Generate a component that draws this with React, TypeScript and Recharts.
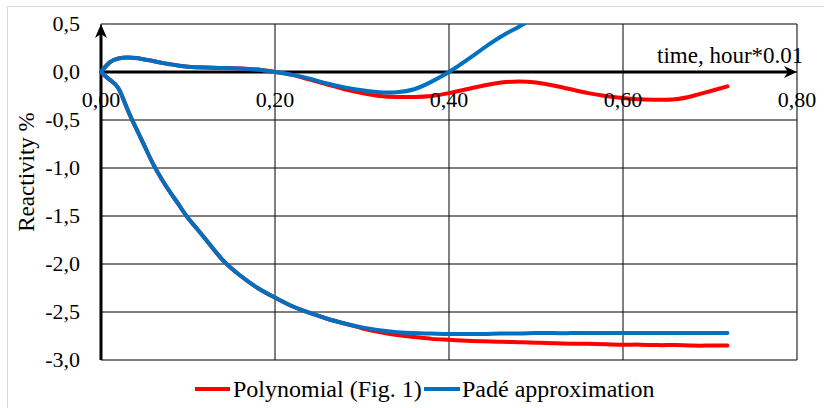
import { LineChart, Line, XAxis, YAxis, CartesianGrid, ReferenceLine } from "recharts";

// time grid, hour*0.01 (finer steps where the curves bend sharply)
const TIME = [
  0, 0.01, 0.02, 0.03, 0.04, 0.05, 0.06, 0.07, 0.08, 0.09, 0.1,
  0.12, 0.14, 0.16, 0.18, 0.2, 0.22, 0.24, 0.26, 0.28, 0.3,
  0.32, 0.34, 0.36, 0.38, 0.4, 0.42, 0.44, 0.46, 0.48, 0.5,
  0.52, 0.54, 0.56, 0.58, 0.6, 0.62, 0.64, 0.66, 0.68, 0.7, 0.72,
];

// reactivity, %
const POLY_UPPER = [
  0, 0.1, 0.14, 0.15, 0.145, 0.13, 0.115, 0.095, 0.08, 0.065, 0.055,
  0.047, 0.042, 0.037, 0.025, 0, -0.03, -0.08, -0.13, -0.18, -0.22,
  -0.25, -0.26, -0.26, -0.25, -0.22, -0.18, -0.14, -0.11, -0.1, -0.11,
  -0.14, -0.18, -0.22, -0.25, -0.27, -0.285, -0.29, -0.285, -0.25, -0.2, -0.15,
];
const POLY_LOWER = [
  0, -0.08, -0.17, -0.38, -0.58, -0.77, -0.96, -1.12, -1.26, -1.39, -1.52,
  -1.74, -1.96, -2.12, -2.25, -2.35, -2.44, -2.51, -2.57, -2.62, -2.67,
  -2.71, -2.74, -2.76, -2.78, -2.79, -2.8, -2.805, -2.81, -2.815, -2.82,
  -2.825, -2.83, -2.83, -2.835, -2.84, -2.84, -2.845, -2.845, -2.85, -2.85, -2.85,
];
const PADE_UPPER = [
  0, 0.1, 0.14, 0.15, 0.145, 0.13, 0.115, 0.095, 0.08, 0.065, 0.055,
  0.047, 0.042, 0.037, 0.025, 0, -0.03, -0.07, -0.12, -0.16, -0.19,
  -0.21, -0.21, -0.18, -0.1, 0, 0.12, 0.25, 0.37, 0.47, 0.58,
  0.7,
];
const PADE_LOWER = [
  0, -0.08, -0.17, -0.38, -0.58, -0.77, -0.96, -1.12, -1.26, -1.39, -1.52,
  -1.74, -1.96, -2.12, -2.25, -2.35, -2.44, -2.51, -2.57, -2.62, -2.66,
  -2.69, -2.71, -2.72, -2.725, -2.73, -2.73, -2.73, -2.725, -2.725, -2.72,
  -2.72, -2.72, -2.72, -2.72, -2.72, -2.72, -2.72, -2.72, -2.72, -2.72, -2.72,
];

const X_TICKS = [0, 0.2, 0.4, 0.6, 0.8];
const Y_TICKS = [-3, -2.5, -2, -1.5, -1, -0.5, 0, 0.5];

const RED = "#ff0000";
const BLUE = "#0070c0";
const SERIF = "Liberation Serif";

const W = 824;
const H = 408;
const MARGIN = { top: 24, right: 27, bottom: 47, left: 0 };
const Y_MIN = -3;
const Y_MAX = 0.5;
const PLOT_H = H - MARGIN.top - MARGIN.bottom - 1;
const ZERO_Y = MARGIN.top + (Y_MAX / (Y_MAX - Y_MIN)) * PLOT_H;

const toRows = (values: number[]) =>
  values.map((v, i) => ({ t: TIME[i], v }));

const comma = (v: number, digits: number) => v.toFixed(digits).replace(".", ",");

// x tick labels sit just under the zero line, not under the plot
const TimeTick = ({ x, payload }: any) => (
  <text x={x} y={ZERO_Y + 35} textAnchor="middle" fontSize={22} fontFamily={SERIF} fill="#000">
    {comma(payload.value, 2)}
  </text>
);

const ValueTick = ({ x, y, payload }: any) => (
  <text x={x} y={y + 7} textAnchor="end" fontSize={22} fontFamily={SERIF} fill="#000">
    {comma(payload.value, 1)}
  </text>
);

// thick horizontal axis with an arrow head at the right end
const HArrow = (p: any) => {
  const y = p.y1;
  const x0 = Math.min(p.x1, p.x2);
  const x1 = Math.max(p.x1, p.x2);
  return (
    <g>
      <line x1={x0} y1={y} x2={x1 - 8} y2={y} stroke="#000" strokeWidth={3} />
      <path d={`M${x1},${y} L${x1 - 13},${y - 6} L${x1 - 9},${y} L${x1 - 13},${y + 6} Z`} fill="#000" />
    </g>
  );
};

// thick vertical axis with an arrow head at the top
const VArrow = (p: any) => {
  const x = p.x1;
  const top = Math.min(p.y1, p.y2);
  const bottom = Math.max(p.y1, p.y2);
  return (
    <g>
      <line x1={x} y1={bottom} x2={x} y2={top + 8} stroke="#000" strokeWidth={3} />
      <path d={`M${x},${top} L${x - 6},${top + 14} L${x},${top + 10} L${x + 6},${top + 14} Z`} fill="#000" />
    </g>
  );
};

export default function App() {
  return (
    <div style={{ position: "absolute", left: 0, top: 0, width: W, height: H, overflow: "hidden", background: "#fff" }}>
      <div
        style={{
          position: "absolute",
          left: 7,
          top: 6,
          width: W + 10,
          height: H + 10,
          border: "1px solid #d9d9d9",
        }}
      />
      <LineChart width={W} height={H} margin={MARGIN} style={{ position: "absolute", left: 0, top: 0 }}>
        <CartesianGrid stroke="#000" strokeWidth={1} />
        <XAxis
          type="number"
          dataKey="t"
          domain={[0, 0.8]}
          ticks={X_TICKS}
          interval={0}
          axisLine={false}
          tickLine={false}
          height={1}
          tick={TimeTick}
        />
        <YAxis
          type="number"
          domain={[Y_MIN, Y_MAX]}
          ticks={Y_TICKS}
          interval={0}
          allowDataOverflow
          axisLine={false}
          tickLine={false}
          width={101}
          tickMargin={15}
          tick={ValueTick}
        />
        <ReferenceLine y={0} shape={HArrow} />
        <ReferenceLine x={0} shape={VArrow} />
        <Line data={toRows(POLY_UPPER)} dataKey="v" type="natural" stroke={RED} strokeWidth={4} strokeLinecap="round" dot={false} isAnimationActive={false} />
        <Line data={toRows(POLY_LOWER)} dataKey="v" type="natural" stroke={RED} strokeWidth={4} strokeLinecap="round" dot={false} isAnimationActive={false} />
        <Line data={toRows(PADE_UPPER)} dataKey="v" type="natural" stroke={BLUE} strokeWidth={4} strokeLinecap="round" dot={false} isAnimationActive={false} />
        <Line data={toRows(PADE_LOWER)} dataKey="v" type="natural" stroke={BLUE} strokeWidth={4} strokeLinecap="round" dot={false} isAnimationActive={false} />
      </LineChart>
      <svg width={W} height={H} style={{ position: "absolute", left: 0, top: 0, pointerEvents: "none" }}>
        <text x={657} y={63} fontSize={23} fontFamily={SERIF} fill="#000">time, hour*0.01</text>
        <text x={0} y={0} fontSize={23} fontFamily={SERIF} fill="#000" textAnchor="middle" transform="translate(34 172) rotate(-90)">
          Reactivity %
        </text>
        <line x1={195} y1={389} x2={230} y2={389} stroke={RED} strokeWidth={4} />
        <text x={233} y={397} fontSize={24} fontFamily={SERIF} fill="#000">Polynomial (Fig. 1)</text>
        <line x1={424} y1={389} x2={460} y2={389} stroke={BLUE} strokeWidth={4} />
        <text x={462} y={397} fontSize={24} fontFamily={SERIF} fill="#000">Padé approximation</text>
      </svg>
    </div>
  );
}
